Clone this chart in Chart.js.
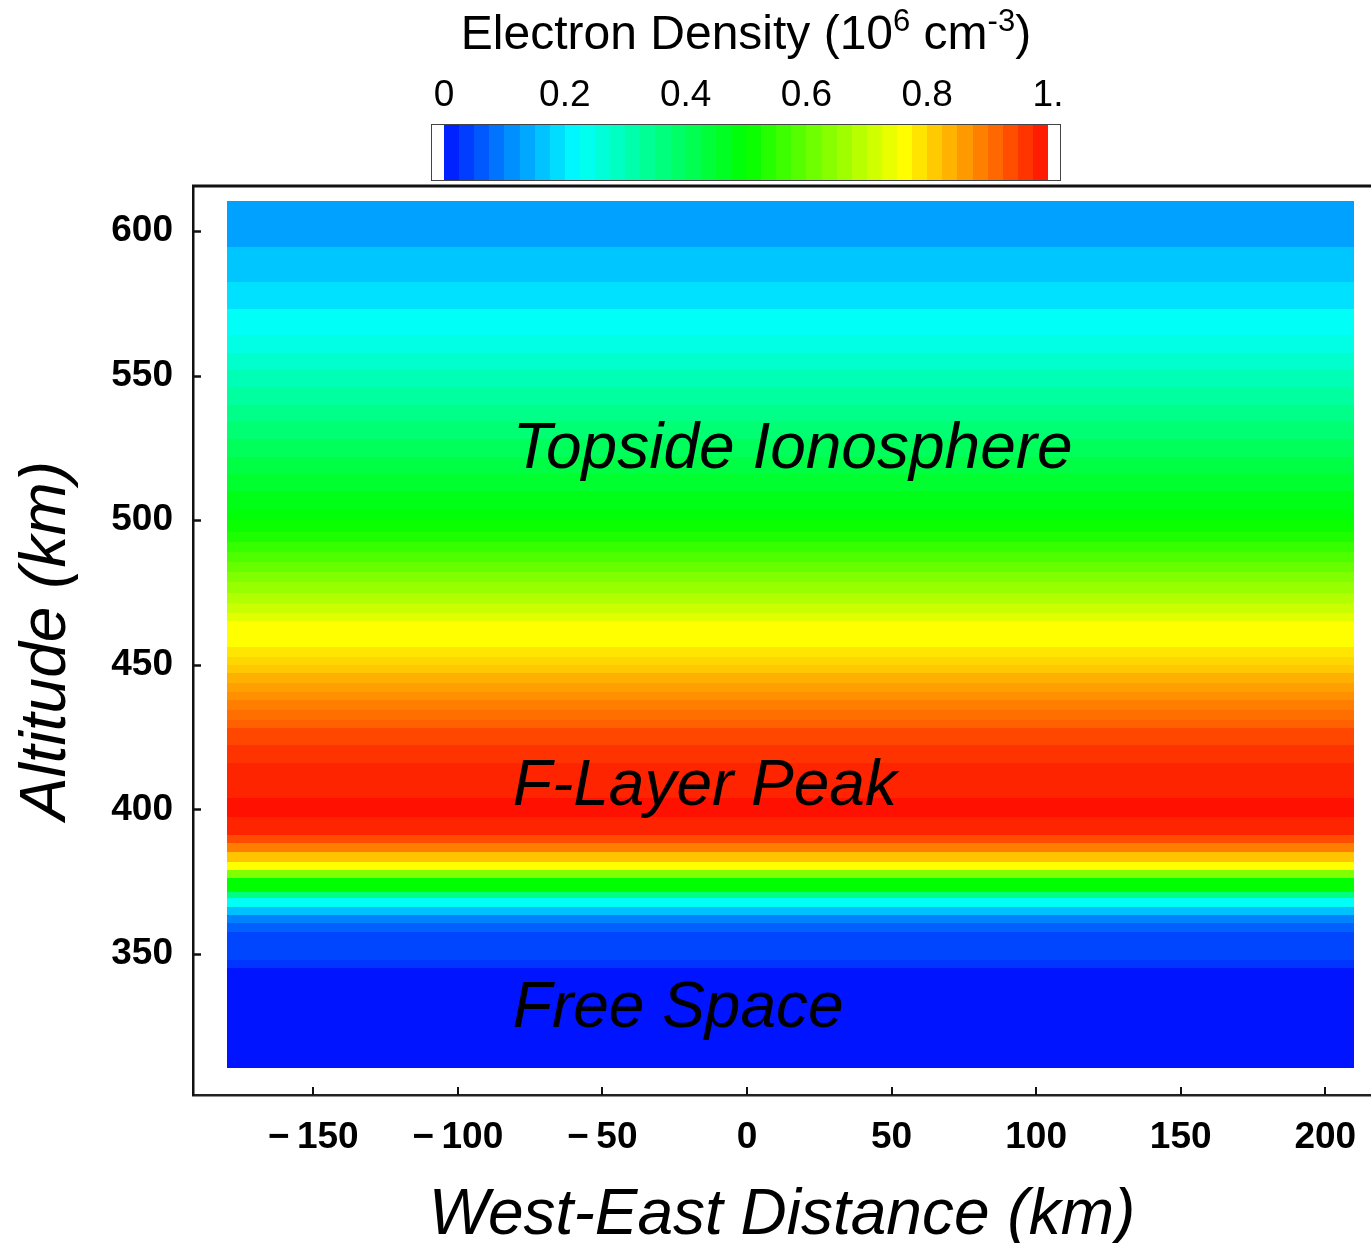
<!DOCTYPE html>
<html>
<head>
<meta charset="utf-8">
<script src="https://cdn.jsdelivr.net/npm/chart.js@4.4.1/dist/chart.umd.min.js"></script>
<style>
  html, body { margin: 0; padding: 0; background: #ffffff; overflow: hidden; }
  canvas { display: block; }
</style>
</head>
<body>
<canvas id="chart" width="1371" height="1243"></canvas>
<script>
// Horizontal density bands: altitude edges (km, bottom to top) and density per band (10^6 cm^-3)
const altitudeEdges = [
  310.5, 345.2, 347.9, 357.6, 360.7, 363.5, 366.3, 369.4, 371.4, 376.3,
  379.1, 381.8, 385.3, 388.4, 391.2, 397.4, 404.0, 416.0, 422.3, 428.1,
  430.9, 434.4, 437.8, 440.6, 443.7, 447.2, 449.9, 452.7, 456.2, 465.0,
  468.0, 471.5, 475.0, 478.5, 482.0, 485.5, 489.0, 492.5, 496.0, 500.0,
  504.0, 510.0, 516.0, 522.0, 528.0, 534.0, 540.0, 546.0, 552.0, 558.0,
  564.0, 573.0, 582.4, 594.5, 610.5
];
const density = [
  0.00, 0.03, 0.045, 0.07, 0.10, 0.16, 0.23, 0.36, 0.50, 0.63,
  0.76, 0.82, 0.89, 0.94, 0.98, 1.00, 0.98, 0.965, 0.945, 0.92,
  0.905, 0.89, 0.87, 0.855, 0.84, 0.815, 0.80, 0.785, 0.76, 0.73,
  0.705, 0.68, 0.655, 0.63, 0.605, 0.58, 0.555, 0.53, 0.51, 0.49,
  0.475, 0.45, 0.425, 0.40, 0.375, 0.35, 0.325, 0.30, 0.275, 0.25,
  0.23, 0.19, 0.165, 0.13
];
// West-East extent of the model grid (km)
const distanceRange = [-180, 210];

const xTickValues = [-150, -100, -50, 0, 50, 100, 150, 200];
const yTickValues = [350, 400, 450, 500, 550, 600];
const colorbarTickValues = [0, 0.2, 0.4, 0.6, 0.8, 1];
const colorbarTickLabels = ['0', '0.2', '0.4', '0.6', '0.8', '1.'];
const colorbarLevels = 40;

const regionNames = ['Topside Ionosphere', 'F-Layer Peak', 'Free Space'];

const FONT = '"Liberation Sans", Arial, Helvetica, sans-serif';

// Rainbow colour scale, density 0..1
const colorStops = [
  [0.00, 0, 20, 255],
  [0.10, 0, 130, 255],
  [0.22, 0, 255, 255],
  [0.50, 0, 255, 0],
  [0.76, 255, 255, 0],
  [1.00, 255, 16, 0]
];
function densityColor(v) {
  v = Math.max(0, Math.min(1, v));
  for (let i = 1; i < colorStops.length; i++) {
    const a = colorStops[i - 1], b = colorStops[i];
    if (v <= b[0]) {
      const t = (v - a[0]) / (b[0] - a[0]);
      const c = [1, 2, 3].map(k => Math.round(a[k] + t * (b[k] - a[k])));
      return `rgb(${c[0]},${c[1]},${c[2]})`;
    }
  }
  const l = colorStops[colorStops.length - 1];
  return `rgb(${l[1]},${l[2]},${l[3]})`;
}

// Paints each altitude band across the distance range using the chart scales
const densityBandsPlugin = {
  id: 'densityBands',
  beforeDatasetsDraw(chart) {
    const { ctx } = chart;
    const xs = chart.scales.x, ys = chart.scales.y;
    const x0 = Math.round(xs.getPixelForValue(distanceRange[0]));
    const x1 = Math.round(xs.getPixelForValue(distanceRange[1]));
    ctx.save();
    for (let i = 0; i < density.length; i++) {
      const yTop = Math.round(ys.getPixelForValue(altitudeEdges[i + 1]));
      const yBot = Math.round(ys.getPixelForValue(altitudeEdges[i]));
      ctx.fillStyle = densityColor(density[i]);
      ctx.fillRect(x0, yTop, x1 - x0, yBot - yTop);
    }
    ctx.restore();
  }
};

// Inward tick marks, top frame line and region annotations
const frameAndLabelsPlugin = {
  id: 'frameAndLabels',
  afterDatasetsDraw(chart, args, opts) {
    const { ctx, chartArea } = chart;
    const xs = chart.scales.x, ys = chart.scales.y;
    ctx.save();
    ctx.strokeStyle = '#111';
    ctx.lineWidth = 3;
    ctx.beginPath();
    ctx.moveTo(chartArea.left - 1, chartArea.top);
    ctx.lineTo(chartArea.right, chartArea.top);
    ctx.stroke();

    ctx.lineWidth = 2.5;
    yTickValues.forEach(v => {
      const py = Math.round(ys.getPixelForValue(v)) + 0.5;
      ctx.beginPath();
      ctx.moveTo(chartArea.left, py);
      ctx.lineTo(chartArea.left + 8, py);
      ctx.stroke();
    });
    ctx.lineWidth = 2;
    xTickValues.forEach(v => {
      const px = Math.round(xs.getPixelForValue(v));
      ctx.beginPath();
      ctx.moveTo(px, chartArea.bottom);
      ctx.lineTo(px, chartArea.bottom - 8);
      ctx.stroke();
    });

    ctx.fillStyle = '#000';
    ctx.font = `italic 64px ${FONT}`;
    ctx.textAlign = 'left';
    ctx.textBaseline = 'alphabetic';
    opts.labels.forEach((lab, i) => {
      ctx.fillText(regionNames[i], xs.getPixelForValue(lab.x), ys.getPixelForValue(lab.y));
    });
    ctx.restore();
  }
};

// Colour bar legend above the plot
const colorbarPlugin = {
  id: 'colorbar',
  afterDraw(chart, args, opts) {
    const { ctx } = chart;
    const { left, right, top, bottom, cap } = opts.box;
    const barL = left + cap, barR = right - cap;
    ctx.save();

    ctx.fillStyle = '#fff';
    ctx.fillRect(left, top, right - left, bottom - top);
    const segW = (barR - barL) / colorbarLevels;
    for (let k = 0; k < colorbarLevels; k++) {
      ctx.fillStyle = densityColor((k + 0.5) / colorbarLevels);
      const sx = Math.round(barL + k * segW);
      const ex = Math.round(barL + (k + 1) * segW);
      ctx.fillRect(sx, top, ex - sx, bottom - top);
    }
    ctx.strokeStyle = '#444';
    ctx.lineWidth = 1;
    ctx.strokeRect(left + 0.5, top + 0.5, right - left - 1, bottom - top - 1);

    ctx.fillStyle = '#000';
    ctx.font = `37px ${FONT}`;
    ctx.textAlign = 'center';
    ctx.textBaseline = 'alphabetic';
    colorbarTickValues.forEach((v, i) => {
      ctx.fillText(colorbarTickLabels[i], barL + v * (barR - barL), opts.tickBaseline);
    });

    // Title with superscripts
    const parts = [
      ['Electron Density (10', false], ['6', true], [' cm', false], ['-3', true], [')', false]
    ];
    const mainFont = `48px ${FONT}`, supFont = `31px ${FONT}`;
    let total = 0;
    parts.forEach(([t, sup]) => { ctx.font = sup ? supFont : mainFont; total += ctx.measureText(t).width; });
    let x = (left + right) / 2 - total / 2;
    ctx.textAlign = 'left';
    parts.forEach(([t, sup]) => {
      ctx.font = sup ? supFont : mainFont;
      ctx.fillText(t, x, opts.titleBaseline - (sup ? 18 : 0));
      x += ctx.measureText(t).width;
    });
    ctx.restore();
  }
};

const minusFmt = v => (v < 0 ? '\u2212\u2009' + Math.abs(v) : String(v));

new Chart(document.getElementById('chart'), {
  type: 'scatter',
  data: { datasets: [{ data: [], pointRadius: 0 }] },
  plugins: [densityBandsPlugin, frameAndLabelsPlugin, colorbarPlugin],
  options: {
    responsive: false,
    animation: false,
    devicePixelRatio: 1,
    layout: { padding: { top: 186, left: 0, right: 0, bottom: 0 } },
    plugins: {
      legend: { display: false },
      tooltip: { enabled: false },
      densityBands: {},
      frameAndLabels: {
        labels: [
          { x: -81, y: 518.0 },
          { x: -81, y: 401.5 },
          { x: -81, y: 324.8 }
        ]
      },
      colorbar: {
        box: { left: 431, right: 1061, top: 124, bottom: 181, cap: 13 },
        tickBaseline: 106,
        titleBaseline: 49
      }
    },
    scales: {
      x: {
        type: 'linear',
        min: -191.6,
        max: 215.8,
        afterBuildTicks: s => { s.ticks = xTickValues.map(v => ({ value: v })); },
        afterFit: s => { s.height = 148; },
        grid: { display: false, drawTicks: true, tickLength: 21 },
        border: { display: true, color: '#222', width: 2.5 },
        ticks: {
          padding: 0,
          color: '#000',
          font: { family: FONT, size: 37, weight: 'bold' },
          maxRotation: 0,
          callback: minusFmt
        },
        title: {
          display: true,
          text: 'West-East Distance (km)',
          color: '#000',
          font: { family: FONT, size: 64, style: 'italic', lineHeight: 0.8 },
          padding: { top: 0, bottom: 1 }
        }
      },
      y: {
        type: 'linear',
        min: 301.2,
        max: 615.6,
        afterBuildTicks: s => { s.ticks = yTickValues.map(v => ({ value: v })); },
        afterFit: s => { s.width = 193; },
        grid: { display: false, drawTicks: false },
        border: { display: true, color: '#111', width: 2.5 },
        ticks: {
          padding: 20,
          color: '#000',
          font: { family: FONT, size: 37, weight: 'bold' },
          callback: v => String(v)
        },
        title: {
          display: true,
          text: 'Altitude (km)',
          color: '#000',
          font: { family: FONT, size: 64, style: 'italic', lineHeight: 1 },
          padding: { top: 15, bottom: 0 }
        }
      }
    }
  }
});
</script>
</body>
</html>
